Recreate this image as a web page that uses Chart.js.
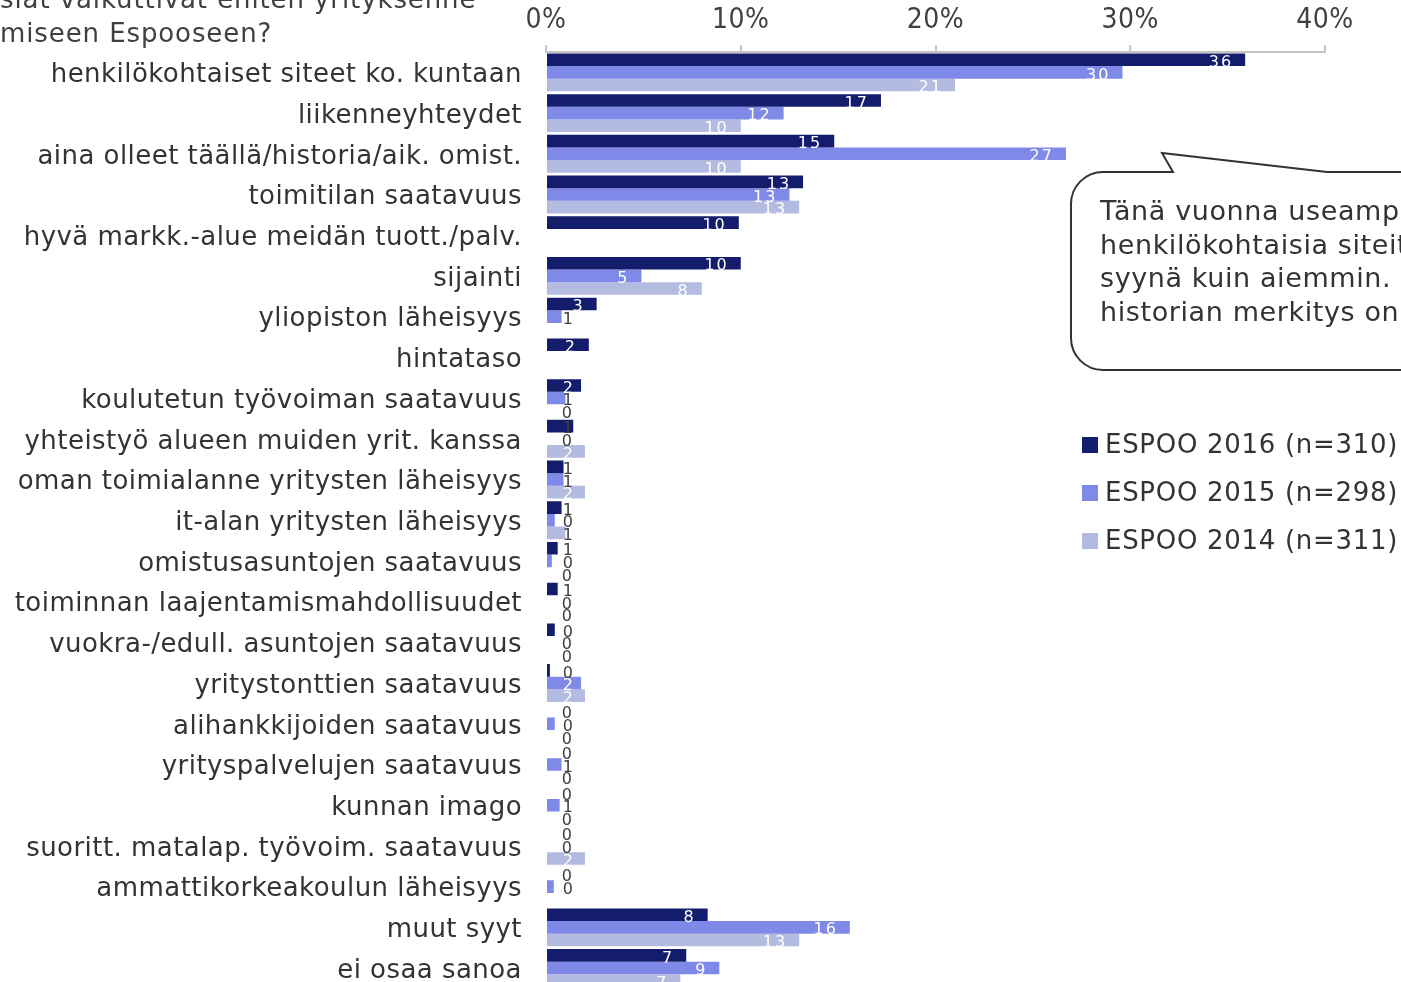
<!DOCTYPE html>
<html>
<head>
<meta charset="utf-8">
<script src="https://cdn.jsdelivr.net/npm/chart.js@4"></script>
<style>
  html, body { margin: 0; padding: 0; background: #fff; overflow: hidden; }
  #wrap { position: relative; width: 1401px; height: 1028px; }
</style>
</head>
<body>
<div id="wrap"><canvas id="chart"></canvas></div>
<script>
// kategoriat ja sarjat (luettu kuvasta, %)
const categories = [
  'henkilökohtaiset siteet ko. kuntaan',
  'liikenneyhteydet',
  'aina olleet täällä/historia/aik. omist.',
  'toimitilan saatavuus',
  'hyvä markk.-alue meidän tuott./palv.',
  'sijainti',
  'yliopiston läheisyys',
  'hintataso',
  'koulutetun työvoiman saatavuus',
  'yhteistyö alueen muiden yrit. kanssa',
  'oman toimialanne yritysten läheisyys',
  'it-alan yritysten läheisyys',
  'omistusasuntojen saatavuus',
  'toiminnan laajentamismahdollisuudet',
  'vuokra-/edull. asuntojen saatavuus',
  'yritystonttien saatavuus',
  'alihankkijoiden saatavuus',
  'yrityspalvelujen saatavuus',
  'kunnan imago',
  'suoritt. matalap. työvoim. saatavuus',
  'ammattikorkeakoulun läheisyys',
  'muut syyt',
  'ei osaa sanoa'
];
const espoo2016 = [35.9, 17.2, 14.8, 13.2, 9.9, 10.0, 2.6, 2.2, 1.8, 1.4, 0.9, 0.8, 0.6, 0.6, 0.45, 0.2, 0, 0, 0, 0, 0, 8.3, 7.2];
const espoo2015 = [29.6, 12.2, 26.7, 12.5, null, 4.9, 0.8, null, 1.0, 0, 0.9, 0.45, 0.3, 0, 0, 1.8, 0.45, 0.8, 0.7, 0, 0.4, 15.6, 8.9];
const espoo2014 = [21.0, 10.0, 10.0, 13.0, null, 8.0, null, null, 0, 2.0, 2.0, 1.0, 0, 0, 0, 2.0, 0, 0, 0, 2.0, null, 13.0, 6.9];

const seriesNames = ['ESPOO 2016 (n=310)', 'ESPOO 2015 (n=298)', 'ESPOO 2014 (n=311)'];
const seriesColors = ['#141c6c', '#7f89e8', '#b3bbe0'];
const xTicks = [0, 10, 20, 30, 40];

const titleLines = ['siat vaikuttivat eniten yrityksenne', 'miseen Espooseen?'];
const noteLines = ['Tänä vuonna useamp', 'henkilökohtaisia siteit', 'syynä kuin aiemmin.', 'historian merkitys on'];

const FONT = "'DejaVu Sans', Verdana, sans-serif";
const TEXT = '#333333';

// hieman harvempi kirjainväli kuin oletus (Verdana-tyyli)
const spacing = {
  id: 'spacing',
  beforeDraw(chart) { chart.ctx.letterSpacing = '0.45px'; }
};

// arvot palkkien päähän
const valueLabels = {
  id: 'valueLabels',
  afterDatasetsDraw(chart) {
    const ctx = chart.ctx;
    ctx.save();
    ctx.font = '16px ' + FONT;
    ctx.letterSpacing = '2px';
    ctx.textAlign = 'right';
    ctx.textBaseline = 'middle';
    chart.data.datasets.forEach((ds, i) => {
      const meta = chart.getDatasetMeta(i);
      meta.data.forEach((bar, j) => {
        const v = ds.data[j];
        if (v == null) return;
        const inside = bar.x - bar.base > 30;
        const right = Math.max(bar.x - 12, bar.base + 28);
        ctx.fillStyle = inside ? '#ffffff' : '#404040';
        ctx.fillText(String(Math.round(v)), right, bar.y + 3);
      });
    });
    ctx.restore();
  }
};

// otsikko, puhekupla ja selite
const extras = {
  id: 'extras',
  afterDraw(chart) {
    const ctx = chart.ctx;
    ctx.save();
    ctx.fillStyle = '#404040';
    ctx.font = '26px ' + FONT;
    ctx.letterSpacing = '0.9px';
    ctx.textAlign = 'left';
    ctx.textBaseline = 'alphabetic';
    ctx.fillText(titleLines[0], 0, 8);
    ctx.fillText(titleLines[1], 0, 42);

    // puhekupla
    const L = 1071, T = 172, B = 370, R = 1450, r = 32;
    ctx.beginPath();
    ctx.moveTo(L + r, T);
    ctx.lineTo(1173, T);
    ctx.lineTo(1162, 153);
    ctx.lineTo(1327, T);
    ctx.lineTo(R, T);
    ctx.lineTo(R, B);
    ctx.lineTo(L + r, B);
    ctx.arcTo(L, B, L, B - r, r);
    ctx.lineTo(L, T + r);
    ctx.arcTo(L, T, L + r, T, r);
    ctx.closePath();
    ctx.fillStyle = '#fff';
    ctx.fill();
    ctx.lineWidth = 2;
    ctx.strokeStyle = '#333';
    ctx.stroke();

    ctx.fillStyle = TEXT;
    ctx.font = '27px ' + FONT;
    ctx.letterSpacing = '0.6px';
    noteLines.forEach((s, i) => ctx.fillText(s, 1100, 220 + i * 33.5));

    // selite
    ctx.font = '26px ' + FONT;
    ctx.letterSpacing = '0.7px';
    ctx.textBaseline = 'middle';
    chart.data.datasets.forEach((ds, i) => {
      const y = 445 + i * 48;
      ctx.fillStyle = ds.backgroundColor;
      ctx.fillRect(1082, y - 8, 16, 16);
      ctx.fillStyle = TEXT;
      ctx.fillText(ds.label, 1105, y + 1);
    });
    ctx.restore();
  }
};

new Chart(document.getElementById('chart'), {
  type: 'bar',
  data: {
    labels: categories,
    datasets: [
      { label: seriesNames[0], data: espoo2016, backgroundColor: seriesColors[0] },
      { label: seriesNames[1], data: espoo2015, backgroundColor: seriesColors[1] },
      { label: seriesNames[2], data: espoo2014, backgroundColor: seriesColors[2] }
    ]
  },
  options: {
    indexAxis: 'y',
    responsive: true,
    maintainAspectRatio: false,
    animation: false,
    layout: { padding: { top: 0, right: 76, bottom: 0, left: 0 } },
    datasets: { bar: { categoryPercentage: 0.93, barPercentage: 1.0 } },
    plugins: { legend: { display: false }, tooltip: { enabled: false } },
    scales: {
      x: {
        position: 'top',
        min: 0, max: 40,
        afterBuildTicks: s => { s.ticks = xTicks.map(v => ({ value: v })); },
        afterFit: s => { s.height = 52; },
        ticks: {
          callback: v => v + '%',
          color: '#404040',
          padding: 7,
          font: { family: "'DejaVu Sans Condensed', 'DejaVu Sans', sans-serif", size: 28 }
        },
        grid: { drawOnChartArea: false, tickLength: 7, color: '#c4c4c4', lineWidth: 2 },
        border: { display: true, color: '#c4c4c4', width: 2 }
      },
      y: {
        afterFit: s => { s.width = 546; },
        ticks: {
          color: TEXT,
          padding: 24,
          labelOffset: 3,
          autoSkip: false,
          font: { family: FONT, size: 26 }
        },
        grid: { display: false, drawTicks: false },
        border: { display: false }
      }
    }
  },
  plugins: [spacing, valueLabels, extras]
});
</script>
</body>
</html>
